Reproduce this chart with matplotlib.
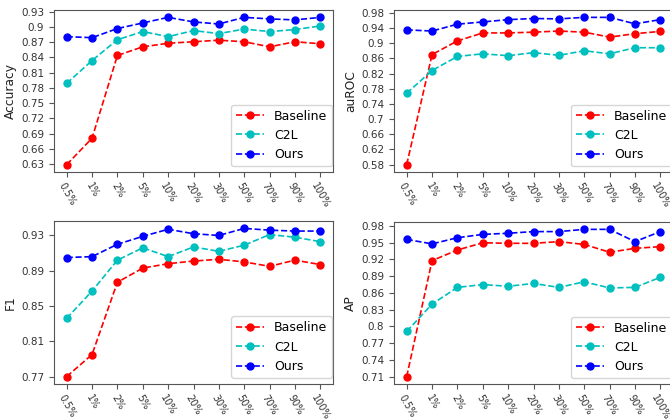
import matplotlib
matplotlib.use("Agg")
import matplotlib.pyplot as plt

categories = ["0.5%", "1%", "2%", "5%", "10%", "20%", "30%", "50%", "70%", "90%", "100%"]
series_names = ["Baseline", "C2L", "Ours"]

acc_baseline = [0.629, 0.681, 0.844, 0.861, 0.868, 0.871, 0.874, 0.871, 0.861, 0.871, 0.867]
acc_c2l = [0.789, 0.834, 0.875, 0.891, 0.881, 0.893, 0.887, 0.896, 0.891, 0.895, 0.902]
acc_ours = [0.881, 0.879, 0.897, 0.908, 0.919, 0.910, 0.906, 0.919, 0.916, 0.914, 0.919]
acc_ticks = [0.63, 0.66, 0.69, 0.72, 0.75, 0.78, 0.81, 0.84, 0.87, 0.9, 0.93]

auroc_baseline = [0.580, 0.870, 0.906, 0.927, 0.927, 0.929, 0.932, 0.929, 0.916, 0.925, 0.931]
auroc_c2l = [0.768, 0.828, 0.865, 0.872, 0.867, 0.875, 0.868, 0.880, 0.872, 0.888, 0.888]
auroc_ours = [0.935, 0.932, 0.950, 0.956, 0.962, 0.965, 0.964, 0.968, 0.968, 0.951, 0.962]
auroc_ticks = [0.58, 0.62, 0.66, 0.7, 0.74, 0.78, 0.82, 0.86, 0.9, 0.94, 0.98]

f1_baseline = [0.770, 0.795, 0.877, 0.893, 0.898, 0.901, 0.903, 0.900, 0.895, 0.902, 0.897]
f1_c2l = [0.836, 0.867, 0.902, 0.916, 0.906, 0.917, 0.912, 0.919, 0.931, 0.928, 0.923]
f1_ours = [0.905, 0.906, 0.920, 0.929, 0.937, 0.932, 0.930, 0.938, 0.936, 0.935, 0.935]
f1_ticks = [0.77, 0.81, 0.85, 0.89, 0.93]

ap_baseline = [0.710, 0.918, 0.937, 0.950, 0.949, 0.949, 0.952, 0.947, 0.933, 0.940, 0.943]
ap_c2l = [0.791, 0.840, 0.870, 0.875, 0.872, 0.877, 0.870, 0.880, 0.869, 0.870, 0.888]
ap_ours = [0.956, 0.948, 0.959, 0.965, 0.967, 0.970, 0.970, 0.974, 0.974, 0.952, 0.970]
ap_ticks = [0.71, 0.74, 0.77, 0.8, 0.83, 0.86, 0.89, 0.92, 0.95, 0.98]

colors = ["r", "c", "b"]

panels = [
    ("Accuracy", [acc_baseline, acc_c2l, acc_ours], acc_ticks, [54, 10, 333, 172]),
    ("auROC", [auroc_baseline, auroc_c2l, auroc_ours], auroc_ticks, [394, 10, 673, 172]),
    ("F1", [f1_baseline, f1_c2l, f1_ours], f1_ticks, [54, 221, 333, 384]),
    ("AP", [ap_baseline, ap_c2l, ap_ours], ap_ticks, [394, 222, 673, 384]),
]

W, H = 670, 420
fig = plt.figure(figsize=(W / 100, H / 100), dpi=100)

for ylabel, data, ticks, (x0, y0, x1, y1) in panels:
    ax = fig.add_axes([x0 / W, (H - y1) / H, (x1 - x0) / W, (y1 - y0) / H])
    x = list(range(len(categories)))
    for name, vals, c in zip(series_names, data, colors):
        ax.plot(x, vals, linestyle="--", marker="o", color=c, label=name,
                markersize=5, linewidth=1.2)
    ax.set_xticks(x)
    ax.set_xticklabels(categories, rotation=-60, fontsize=7, color="#333333")
    ax.set_yticks(ticks)
    ax.set_yticklabels([str(t) for t in ticks], fontsize=7.5, color="#333333")
    ax.set_ylabel(ylabel, fontsize=8.8, color="#222222", labelpad=3)
    for s in ax.spines.values():
        s.set_color("#555555")
    ax.tick_params(colors="#555555", labelcolor="#333333")
    ax.tick_params(axis="x", pad=3)
    ax.legend(loc="lower right", fontsize=9, bbox_to_anchor=(0.997, 0.037),
              borderaxespad=0, handlelength=2.2)

fig.savefig("out.png", dpi=100)
